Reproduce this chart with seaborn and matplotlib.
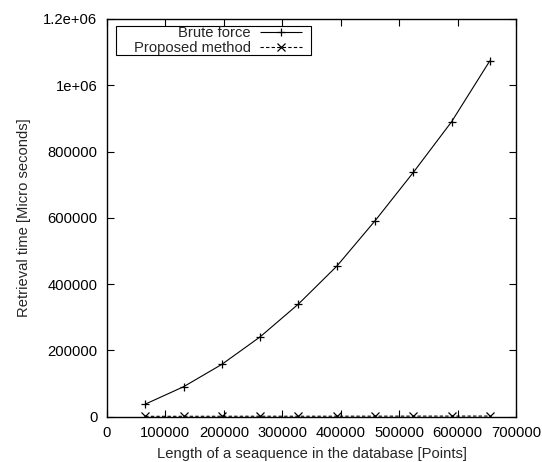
import matplotlib
matplotlib.use("Agg")
import matplotlib.pyplot as plt
from matplotlib.patches import Rectangle
import seaborn as sns
import pandas as pd

lengths = [65536, 131072, 196608, 262144, 327680, 393216, 458752, 524288, 589824, 655360]
brute_force = [38000, 90500, 158000, 241000, 340000, 454000, 591000, 737000, 890000, 1074000]
proposed = [1200, 1300, 1400, 1500, 1500, 1600, 1700, 1800, 1900, 2000]
series_names = ["Brute force", "Proposed method"]
x_ticks = [0, 100000, 200000, 300000, 400000, 500000, 600000, 700000]
y_ticks = [0, 200000, 400000, 600000, 800000, 1000000, 1200000]
y_tick_labels = ["0", "200000", "400000", "600000", "800000", "1e+06", "1.2e+06"]

df = pd.DataFrame({
    "x": lengths * 2,
    "y": brute_force + proposed,
    "series": [series_names[0]] * len(lengths) + [series_names[1]] * len(lengths),
})

sns.set_style("ticks")
plt.rcParams["font.family"] = ["Liberation Sans", "DejaVu Sans"]
FS = 10.6

fig = plt.figure(figsize=(5.42, 4.62), dpi=100)
ax = fig.add_axes([0.1974, 0.098, 0.7546, 0.861])

sns.lineplot(data=df, x="x", y="y", hue="series", style="series",
             palette=["black", "black"],
             dashes={series_names[0]: (1, 0), series_names[1]: (3, 2)},
             markers={series_names[0]: "+", series_names[1]: "x"},
             markersize=6, markeredgewidth=0.9, markeredgecolor="black",
             linewidth=0.8, ax=ax, legend=True)

ax.set_xlim(0, 700000)
ax.set_ylim(0, 1200000)
ax.set_xticks(x_ticks)
ax.set_xticklabels([str(t) for t in x_ticks])
ax.set_yticks(y_ticks)
ax.set_yticklabels(y_tick_labels)
ax.tick_params(direction="in", top=True, right=True, length=5, width=0.8,
               labelsize=FS, colors="black", pad=7)
for s in ax.spines.values():
    s.set_linewidth(1.0)
    s.set_color("black")
ax.set_xlabel("Length of a seaquence in the database [Points]", fontsize=FS, labelpad=5)
ax.set_ylabel("Retrieval time [Micro seconds]", fontsize=FS, labelpad=9)

leg = ax.legend(loc="upper right", bbox_to_anchor=(0.478, 0.981), markerfirst=False,
                frameon=False, fontsize=FS, handlelength=2.9, borderpad=0.0,
                labelspacing=0.05, handletextpad=0.6, borderaxespad=0.0)
for line in leg.get_lines():
    line.set_markeredgecolor("black")

# legend frame in the gnuplot style
ax.add_patch(Rectangle((0.022, 0.909), 0.477, 0.073, transform=ax.transAxes,
                       fill=False, edgecolor="black", linewidth=0.8, zorder=5))

fig.savefig("out.png", dpi=100)
